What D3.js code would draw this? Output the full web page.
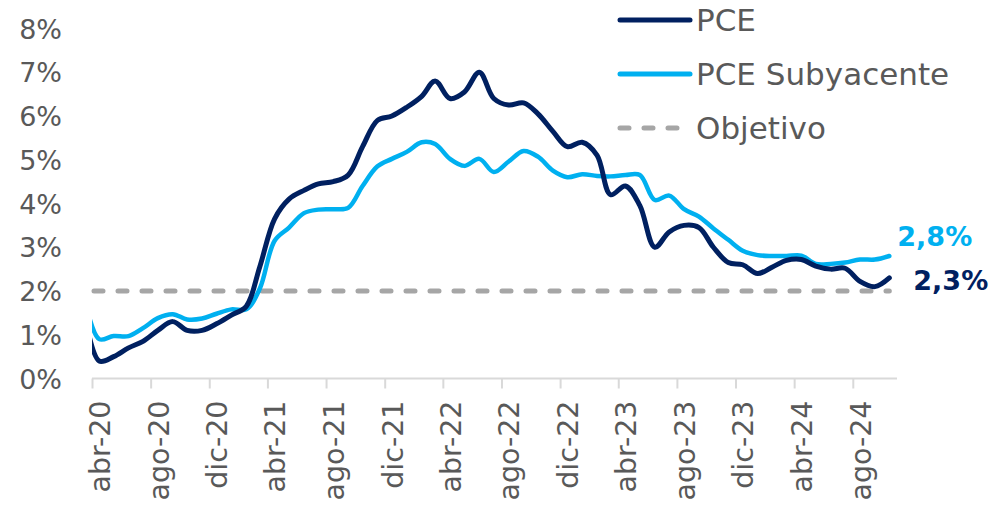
<!DOCTYPE html>
<html>
<head>
<meta charset="utf-8">
<script src="https://cdn.jsdelivr.net/npm/d3@7"></script>
<style>
  body { margin: 0; background: #fff; }
  text { font-family: "DejaVu Sans", sans-serif; }
</style>
</head>
<body>
<div id="chart"></div>
<script>
(function () {

// Data: mar-20 .. oct-24, monthly, y/y %
const startMonth = "2020-03";
const pce = [
    1.5, 0.4, 0.5, 0.7, 0.85, 1.1, 1.3, 1.1, 1.1, 1.25,
    1.45, 1.65, 2.55, 3.65, 4.1, 4.3, 4.45, 4.5, 4.65, 5.3, 5.9, 6.0,
    6.2, 6.45, 6.8, 6.4, 6.55, 7.0, 6.4, 6.25, 6.3, 6.05, 5.65, 5.3,
    5.4, 5.1, 4.2, 4.4, 3.95, 3.0, 3.35, 3.5, 3.45, 3.0, 2.65, 2.6,
    2.4, 2.55, 2.7, 2.72, 2.57, 2.5, 2.52, 2.22, 2.1, 2.3
];
const pceCore = [
    1.85, 0.9, 0.97, 0.97, 1.15, 1.38, 1.47, 1.35, 1.37, 1.48,
    1.58, 1.58, 2.05, 3.15, 3.45, 3.78, 3.86, 3.87, 3.9, 4.4, 4.85, 5.02,
    5.18, 5.4, 5.36, 5.02, 4.86, 5.02, 4.72, 4.96, 5.2, 5.07, 4.75, 4.6,
    4.67, 4.63, 4.62, 4.65, 4.65, 4.08, 4.18, 3.87, 3.7, 3.43, 3.17, 2.92,
    2.82, 2.8, 2.8, 2.81, 2.62, 2.62, 2.65, 2.72, 2.72, 2.8
];
const target = 2;
const tickLabels = ["abr-20", "ago-20", "dic-20", "abr-21", "ago-21", "dic-21", "abr-22",
    "ago-22", "dic-22", "abr-23", "ago-23", "dic-23", "abr-24", "ago-24"];
const yTicks = [0, 1, 2, 3, 4, 5, 6, 7, 8];
const seriesNames = ["PCE", "PCE Subyacente", "Objetivo"];
const endLabels = ["2,3%", "2,8%"];

const colors = { pce: "#002060", core: "#00b0f0", target: "#a6a6a6", text: "#595959", axis: "#d9d9d9" };

const width = 996, height = 510;
const plot = { left: 92, right: 897, top: 28.5, bottom: 378.5 };

const svg = d3.select("#chart").append("svg")
    .attr("width", width)
    .attr("height", height);

// months as dates (mid-month for data points)
const monthIdx = { ene: 0, feb: 1, mar: 2, abr: 3, may: 4, jun: 5, jul: 6, ago: 7, sep: 8, oct: 9, nov: 10, dic: 11 };
const [sy, sm] = startMonth.split("-").map(Number);
const midDate = i => new Date(sy, sm - 1 + i, 16);
const pceData = pce.map((v, i) => ({ date: midDate(i), value: v }));
const coreData = pceCore.map((v, i) => ({ date: midDate(i), value: v }));

function labelDate(lbl, day) {
    const [m, yy] = lbl.split("-");
    return new Date(2000 + +yy, monthIdx[m], day);
}
const tickStarts = tickLabels.map(l => labelDate(l, 1));
const tickMids = tickLabels.map(l => labelDate(l, 16));

// Scales
const x = d3.scaleTime()
    .domain([new Date(2020, 3, 1), new Date(2024, 10, 1)])
    .range([plot.left, plot.right]);

const y = d3.scaleLinear()
    .domain([0, 8])
    .range([plot.bottom, plot.top]);

// clip to plot area
svg.append("clipPath").attr("id", "clip")
    .append("rect")
    .attr("x", plot.left).attr("y", 0)
    .attr("width", plot.right - plot.left).attr("height", plot.bottom);

// Y axis
const yAxis = svg.append("g")
    .attr("transform", `translate(${plot.left},0)`)
    .call(d3.axisLeft(y).tickValues(yTicks).tickFormat(d => d + "%").tickSize(0).tickPadding(30));
yAxis.select(".domain").remove();
yAxis.selectAll("text")
    .attr("fill", colors.text)
    .style("font-size", "27px")
    .attr("dy", "0.36em");

// X axis: tick marks
const xTicks = svg.append("g")
    .attr("transform", `translate(0,${plot.bottom})`)
    .call(d3.axisBottom(x).tickValues(tickStarts).tickSize(10).tickFormat(""));
xTicks.select(".domain")
    .attr("stroke", colors.axis)
    .attr("stroke-width", 2)
    .attr("d", `M${plot.left},0H${plot.right}`);
xTicks.selectAll(".tick line").attr("stroke", colors.axis).attr("stroke-width", 2);

// X axis: labels (centred on month)
const xLabels = svg.append("g")
    .attr("transform", `translate(0,${plot.bottom})`)
    .call(d3.axisBottom(x).tickValues(tickMids).tickSize(0).tickFormat((d, i) => tickLabels[i]));
xLabels.select(".domain").remove();
xLabels.selectAll("text")
    .attr("fill", colors.text)
    .style("font-size", "28.5px")
    .attr("text-anchor", "end")
    .attr("transform", "rotate(-90)")
    .attr("x", -22)
    .attr("y", 0)
    .attr("dy", "0.36em");

// Target line
svg.append("line")
    .attr("x1", plot.left + 2)
    .attr("x2", x(pceData[pceData.length - 1].date))
    .attr("y1", y(target))
    .attr("y2", y(target))
    .attr("stroke", colors.target)
    .attr("stroke-width", 5)
    .attr("stroke-linecap", "round")
    .attr("stroke-dasharray", "9,15");

// Lines
const line = d3.line()
    .x(d => x(d.date))
    .y(d => y(d.value))
    .curve(d3.curveCatmullRom.alpha(0.5));

const lines = svg.append("g").attr("clip-path", "url(#clip)");

lines.append("path")
    .datum(coreData)
    .attr("fill", "none")
    .attr("stroke", colors.core)
    .attr("stroke-width", 4.5)
    .attr("stroke-linecap", "round")
    .attr("d", line);

lines.append("path")
    .datum(pceData)
    .attr("fill", "none")
    .attr("stroke", colors.pce)
    .attr("stroke-width", 5)
    .attr("stroke-linecap", "round")
    .attr("d", line);

// End labels
const lastPce = pceData[pceData.length - 1];
const lastCore = coreData[coreData.length - 1];

svg.append("text")
    .attr("x", x(lastPce.date) + 24)
    .attr("y", y(lastPce.value) + 12)
    .attr("fill", colors.pce)
    .style("font-size", "27px")
    .style("font-weight", "bold")
    .text(endLabels[0]);

svg.append("text")
    .attr("x", x(lastCore.date) + 8)
    .attr("y", y(lastCore.value) - 10)
    .attr("fill", colors.core)
    .style("font-size", "27px")
    .style("font-weight", "bold")
    .text(endLabels[1]);

// Legend
const legend = svg.append("g").attr("transform", "translate(618,20)");
const legendColors = [colors.pce, colors.core, colors.target];

seriesNames.forEach((name, i) => {
    const g = legend.append("g").attr("transform", `translate(0,${i * 54})`);
    g.append("line")
        .attr("x1", 2).attr("x2", 72)
        .attr("y1", 0).attr("y2", 0)
        .attr("stroke", legendColors[i])
        .attr("stroke-width", 5)
        .attr("stroke-linecap", "round")
        .attr("stroke-dasharray", i === 2 ? "9,15" : null);
    g.append("text")
        .attr("x", 78)
        .attr("y", 0)
        .attr("dy", "0.36em")
        .attr("fill", colors.text)
        .style("font-size", "31px")
        .text(name);
});

})();
</script>
</body>
</html>
